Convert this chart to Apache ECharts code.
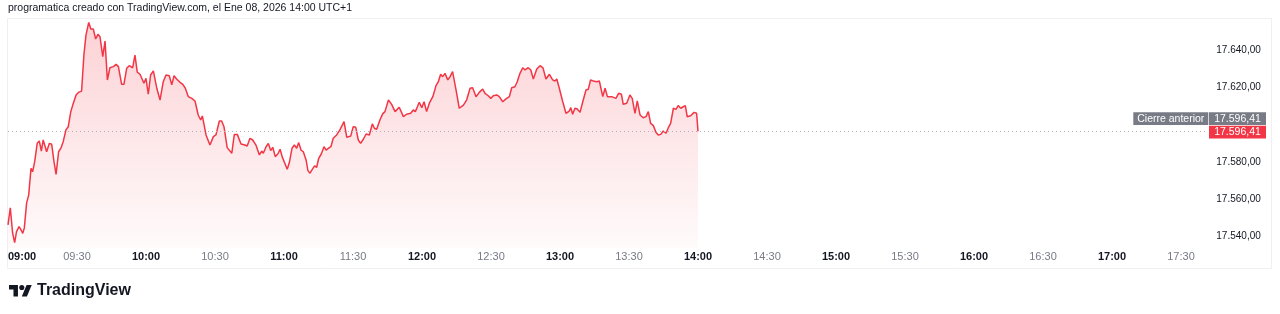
<!DOCTYPE html>
<html><head><meta charset="utf-8">
<script src="https://cdn.jsdelivr.net/npm/echarts@6/dist/echarts.min.js"></script>
<style>html,body{margin:0;padding:0;background:#fff}#c{width:1280px;height:314px}</style>
</head><body><div id="c"></div>
<script>
const headerText = 'programatica creado con TradingView.com, el Ene 08, 2026 14:00 UTC+1';
const brandText = 'TradingView';
const startHour = 9;
// minutes after 09:00
const minutes = [0,1.0,2.0,2.9,3.7,4.8,5.7,6.4,7.1,8.1,9.0,10.0,10.7,11.6,12.7,13.6,14.5,15.3,16.8,18.0,19.0,20.0,20.9,22.0,23.0,24.0,25.2,26.2,27.3,28.4,29.6,30.6,32.0,33.0,33.9,35.1,36.0,37.1,38.1,39.1,40.0,41.2,42.2,43.2,44.3,45.8,47.0,48.0,49.4,50.4,51.6,52.7,54.2,55.2,56.2,57.4,59.1,60.0,61.0,62.0,63.2,64.7,66.1,67.5,68.7,70.1,71.2,72.2,73.3,74.8,76.0,77.1,78.4,79.9,81.3,82.7,83.8,84.5,86.1,87.8,89.3,90.4,91.9,92.9,93.9,95.3,97.3,98.4,99.7,101.3,103.0,104.0,105.2,106.4,107.8,109.3,110.3,111.0,112.2,113.2,114.2,115.1,116.2,117.3,118.3,119.3,120.1,121.4,122.3,123.5,124.5,125.5,126.4,127.4,128.4,129.6,130.4,131.3,132.3,133.3,134.2,135.1,136.2,137.4,138.3,139.4,140.4,141.4,142.9,144.3,146.1,147.3,149.0,150.1,151.2,152.3,153.3,154.5,155.7,157.1,158.4,159.3,160.3,161.7,162.9,163.9,165.4,166.8,168.3,170.1,171.9,173.3,175.1,176.2,177.1,178.0,178.8,179.9,180.9,182.0,183.2,184.7,186.1,187.1,188.1,189.0,190.0,191.2,192.2,193.3,194.8,196.2,198.0,199.4,200.9,202.0,203.5,204.9,206.4,207.4,208.8,209.9,211.0,212.5,213.6,215.1,216.5,218.0,219.0,220.4,221.4,222.6,223.8,224.8,226.2,227.3,228.4,229.9,231.3,232.6,233.9,234.6,235.4,236.8,237.8,238.6,239.7,241.2,242.6,244.0,244.7,245.5,246.5,247.5,248.7,249.9,251.3,252.3,253.3,254.5,256.0,257.1,258.6,259.6,260.6,262.5,264.3,265.5,266.7,267.5,269.0,270.4,271.4,272.6,273.6,274.8,276.2,277.4,278.4,279.4,280.6,281.7,282.7,283.8,284.9,286.1,287.1,288.1,289.3,290.4,291.4,292.5,293.6,294.5,295.3,296.8,298.3,299.4,300];
const prices = [17546.3,17555.5,17542.0,17536.8,17542.7,17545.4,17543.6,17541.8,17544.7,17558.1,17562.3,17576.6,17574.8,17580.2,17590.0,17591.3,17585.9,17591.8,17585.5,17590.0,17589.5,17580.2,17573.4,17585.5,17587.4,17590.9,17597.2,17598.9,17607.0,17611.5,17615.9,17617.3,17618.0,17637.3,17648.0,17654.8,17651.2,17651.2,17645.9,17648.4,17647.1,17636.4,17644.8,17623.9,17630.5,17631.1,17632.3,17631.1,17621.6,17621.6,17630.2,17631.6,17630.5,17637.3,17628.1,17627.0,17622.2,17624.8,17616.3,17626.6,17628.8,17619.5,17613.2,17623.0,17626.6,17626.2,17621.3,17626.2,17624.5,17622.7,17621.6,17619.5,17615.0,17614.1,17612.7,17605.2,17602.5,17604.7,17594.5,17589.1,17593.6,17594.5,17602.0,17602.0,17598.9,17587.7,17584.7,17594.8,17594.8,17589.7,17589.1,17588.6,17592.7,17591.8,17589.1,17583.8,17585.9,17584.7,17588.2,17590.0,17586.1,17587.9,17582.9,17584.3,17586.8,17582.5,17581.5,17576.1,17579.6,17587.4,17589.1,17587.4,17590.4,17586.4,17585.5,17581.1,17575.4,17574.0,17576.1,17577.9,17577.2,17582.0,17584.3,17588.2,17586.4,17587.4,17588.2,17592.7,17594.5,17597.2,17601.6,17593.2,17593.9,17598.9,17598.6,17591.8,17590.0,17592.2,17595.0,17594.5,17600.4,17598.1,17597.5,17602.5,17605.8,17607.0,17613.2,17610.9,17607.0,17609.3,17604.3,17605.6,17606.1,17607.9,17607.0,17609.6,17612.0,17609.1,17612.3,17607.0,17611.5,17615.0,17620.9,17623.0,17627.0,17625.7,17627.5,17624.0,17625.7,17628.4,17618.6,17608.8,17610.5,17613.2,17619.5,17619.8,17615.0,17617.3,17619.1,17616.8,17615.5,17614.1,17615.5,17615.9,17615.0,17612.3,17613.8,17615.0,17619.8,17620.3,17623.0,17627.5,17630.5,17629.3,17630.5,17629.3,17624.5,17629.8,17631.6,17630.4,17624.5,17623.7,17627.0,17624.0,17623.4,17624.5,17619.5,17612.3,17606.1,17607.3,17609.1,17605.6,17608.8,17608.4,17606.6,17612.3,17618.6,17619.0,17624.0,17623.4,17623.0,17623.4,17615.0,17619.5,17615.0,17615.0,17614.1,17616.8,17616.3,17610.9,17611.5,17615.9,17614.1,17606.1,17612.7,17605.2,17603.7,17604.3,17607.0,17600.7,17599.5,17595.9,17594.5,17594.8,17596.6,17595.4,17598.4,17600.7,17608.8,17608.2,17610.2,17608.8,17609.6,17610.2,17604.3,17604.8,17606.6,17606.1,17596.41];
const prevClose = 17596.41;
const lastPrice = 17596.41;
const prevCloseLabel = 'Cierre anterior';
const yTickValues = [17540, 17560, 17580, 17620, 17640];

const FONT = '"Liberation Sans", Arial, sans-serif';
const RED = '#f23645';
const GRAY = '#787b86';
function fmtTime(m) {
  const h = startHour + Math.floor(m / 60), mm = Math.round(m % 60);
  return String(h).padStart(2, '0') + ':' + String(mm).padStart(2, '0');
}
function fmtPrice(v) {
  const s = v.toFixed(2).split('.');
  return s[0].replace(/\B(?=(\d{3})+(?!\d))/g, '.') + ',' + s[1];
}

const chart = echarts.init(document.getElementById('c'), null, { renderer: 'canvas' });
chart.setOption({
  animation: false,
  backgroundColor: '#ffffff',
  title: { text: headerText, left: 8, top: 3, padding: 0, textStyle: { fontSize: 10.5, fontWeight: 'normal', color: '#131722', fontFamily: FONT } },
  grid: { left: 8, right: 73.7, top: 18, bottom: 66, containLabel: false },
  xAxis: {
    type: 'value', min: 0, max: 521, interval: 30,
    axisLine: { show: false }, axisTick: { show: false }, splitLine: { show: false },
    axisLabel: {
      showMaxLabel: false, alignMinLabel: 'left', margin: 3,
      formatter: v => (v % 60 === 0 ? '{b|' + fmtTime(v) + '}' : '{n|' + fmtTime(v) + '}'),
      rich: {
        b: { fontWeight: 'bold', color: '#131722', fontSize: 11, fontFamily: FONT },
        n: { color: GRAY, fontSize: 11, fontFamily: FONT }
      }
    }
  },
  yAxis: {
    type: 'value', position: 'right', min: 17533.95, max: 17657.14,
    axisLine: { show: false }, axisTick: { show: false }, splitLine: { show: false },
    axisLabel: { customValues: yTickValues, formatter: fmtPrice, margin: 10, color: '#131722', fontSize: 10, fontFamily: FONT }
  },
  series: [{
    type: 'line',
    data: minutes.map((m, i) => [m, prices[i]]),
    showSymbol: false,
    lineStyle: { color: RED, width: 1.5 },
    itemStyle: { color: RED },
    areaStyle: {
      color: new echarts.graphic.LinearGradient(0, 0, 0, 1, [
        { offset: 0, color: 'rgba(242,54,69,0.32)' },
        { offset: 1, color: 'rgba(242,54,69,0.03)' }
      ])
    },
    markLine: {
      silent: true, symbol: 'none', label: { show: false },
      lineStyle: { color: '#b2b5be', type: [1, 3], width: 1 },
      data: [{ yAxis: prevClose }]
    }
  }]
});

const yPrev = chart.convertToPixel({ yAxisIndex: 0 }, prevClose);
const yLast = chart.convertToPixel({ yAxisIndex: 0 }, lastPrice);
const xEnd = chart.convertToPixel({ xAxisIndex: 0 }, 521);
const boxH = 12.7;
const boxX = xEnd + 2.7, boxW = 57;
const txt = (x, y, t, fill, size, weight, align) => ({
  type: 'text', x, y, silent: true,
  style: { text: t, fill, fontSize: size, fontWeight: weight || 'normal', fontFamily: FONT, align: align || 'center', verticalAlign: 'middle' }
});
const logoS = 0.64;
chart.setOption({
  graphic: [
    { type: 'rect', silent: true, shape: { x: 7.5, y: 18.5, width: 1264, height: 250 }, style: { fill: null, stroke: '#eef0f3', lineWidth: 1 } },
    // previous close labels
    { type: 'rect', silent: true, shape: { x: xEnd - 73, y: yPrev - 6.4 - boxH, width: 75, height: boxH }, style: { fill: GRAY } },
    txt(xEnd - 35.5, yPrev - 6.4 - boxH / 2, prevCloseLabel, '#ffffff', 10.5),
    { type: 'rect', silent: true, shape: { x: boxX, y: yPrev - 6.4 - boxH, width: boxW, height: boxH }, style: { fill: GRAY } },
    txt(boxX + boxW / 2, yPrev - 6.4 - boxH / 2, fmtPrice(prevClose), '#ffffff', 10.5),
    // last price label
    { type: 'rect', silent: true, shape: { x: boxX, y: yLast - 5.7, width: boxW, height: boxH }, style: { fill: RED } },
    txt(boxX + boxW / 2, yLast - 5.7 + boxH / 2, fmtPrice(lastPrice), '#ffffff', 10.5),
    // TradingView logo
    {
      type: 'group', x: 9, y: 285 - 4 * logoS, scaleX: logoS, scaleY: logoS, silent: true,
      children: [
        { type: 'polygon', shape: { points: [[14, 22], [7, 22], [7, 11], [0, 11], [0, 4], [14, 4]] }, style: { fill: '#131722' } },
        { type: 'circle', shape: { cx: 20, cy: 8, r: 4 }, style: { fill: '#131722' } },
        { type: 'polygon', shape: { points: [[28, 22], [20, 22], [27.5, 4], [35.5, 4]] }, style: { fill: '#131722' } }
      ]
    },
    txt(37, 291, brandText, '#131722', 16, 'bold', 'left')
  ]
});
</script>
</body></html>
